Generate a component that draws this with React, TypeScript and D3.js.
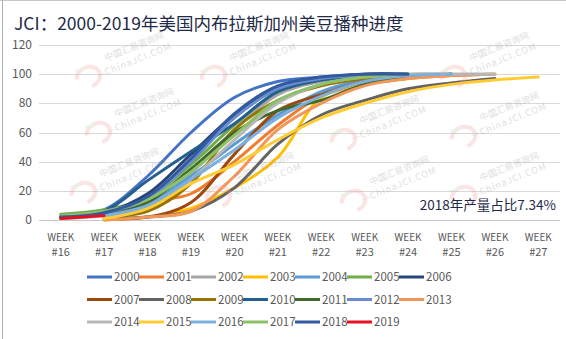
import React from "react";
import * as d3 from "d3";

const weeks = ["16", "17", "18", "19", "20", "21", "22", "23", "24", "25", "26", "27"];
const yTicks = [0, 20, 40, 60, 80, 100, 120];
const years = ["2000","2001","2002","2003","2004","2005","2006","2007","2008","2009","2010","2011","2012","2013","2014","2015","2016","2017","2018","2019"];
const colors = ["#4472C4","#ED7D31","#A5A5A5","#FFC000","#5B9BD5","#70AD47","#264478","#9E480E","#636363","#997300","#255E91","#43682B","#698ED0","#F1975A","#B7B7B7","#FFCD33","#7CAFDD","#8CC168","#335AA1","#E81123"];

type V = number | null;
const s2000: V[] = [2, 7, 30, 60, 84, 95, 98, 100, 100, null, null, null];
const s2001: V[] = [null, 1, 12, 18, 40, 65, 85, 93, 97, 99, 100, null];
const s2002: V[] = [1, 3, 10, 32, 62, 86, 95, 98, 100, 100, 100, null];
const s2003: V[] = [null, 0, 2, 8, 22, 43, 84, 93, 97, 99, null, null];
const s2004: V[] = [2, 4, 12, 30, 52, 72, 88, 96, 99, 100, null, null];
const s2005: V[] = [4, 7, 15, 38, 65, 88, 96, 99, 100, null, null, null];
const s2006: V[] = [2, 5, 18, 45, 72, 90, 97, 100, 100, null, null, null];
const s2007: V[] = [null, 1, 2, 12, 45, 75, 86, 95, 98, 100, null, null];
const s2008: V[] = [null, 1, 2, 6, 22, 52, 72, 82, 90, 94, 97, null];
const s2009: V[] = [null, 2, 6, 25, 62, 82, 92, 97, 99, 100, null, null];
const s2010: V[] = [2, 6, 27, 47, 66, 88, 96, 99, 100, null, null, null];
const s2011: V[] = [null, 3, 12, 35, 60, 75, 82, 93, 98, 100, null, null];
const s2012: V[] = [3, 6, 15, 40, 70, 90, 97, 99, 100, null, null, null];
const s2013: V[] = [null, 0, 2, 6, 30, 62, 80, 92, 97, 99, 100, null];
const s2014: V[] = [null, 2, 8, 28, 55, 80, 93, 98, 100, 100, 100, null];
const s2015: V[] = [null, 1, 8, 25, 38, 55, 70, 80, 88, 93, 96, 98];
const s2016: V[] = [null, 3, 10, 28, 48, 70, 85, 95, 99, 100, null, null];
const s2017: V[] = [3, 6, 14, 33, 58, 82, 93, 98, 100, null, null, null];
const s2018: V[] = [2, 5, 16, 42, 73, 92, 98, 100, 100, null, null, null];
const s2019: V[] = [1, 3, null, null, null, null, null, null, null, null, null, null];
const series = [s2000,s2001,s2002,s2003,s2004,s2005,s2006,s2007,s2008,s2009,s2010,s2011,s2012,s2013,s2014,s2015,s2016,s2017,s2018,s2019];

const wmPos: [number, number][] = [
  [115, 62], [240, 62], [480, 62],
  [125, 118], [370, 125], [490, 122],
  [110, 178], [245, 182], [380, 186], [490, 182],
];

export default function App() {
  const W = 566, H = 339;
  const x = d3.scaleBand<string>().domain(weeks).range([39, 560]);
  const xc = (w: string) => (x(w) as number) + x.bandwidth() / 2;
  const y = d3.scaleLinear().domain([0, 120]).range([220, 45]);
  const font = "'Noto Sans CJK SC', 'Noto Sans', sans-serif";

  const lineGen = d3.line<{ w: string; v: number | null }>()
    .defined(d => d.v !== null)
    .x(d => xc(d.w))
    .y(d => y(d.v as number))
    .curve(d3.curveCatmullRom.alpha(0.5));

  return (
    <svg width={W} height={H} style={{ position: "absolute", left: 0, top: 0, background: "#fff" }} fontFamily={font}>
      <rect x={0} y={0} width={W} height={H} fill="#fff" />
      <line x1={0} x2={W} y1={0.5} y2={0.5} stroke="#c8c8c8" />
      <line x1={2.5} x2={2.5} y1={0} y2={H} stroke="#b0b0b0" />
      <text x={14} y={30} fontSize={17.5} fill="#1f2a48">JCI：2000-2019年美国内布拉斯加州美豆播种进度</text>

      {yTicks.map(t => (
        <g key={t}>
          <line x1={39} x2={560} y1={Math.round(y(t)) + 0.5} y2={Math.round(y(t)) + 0.5} stroke={t === 0 ? "#c8c8c8" : "#d9d9d9"} />
          <text x={32} y={y(t) + 4} fontSize={12} fill="#595959" textAnchor="end">{t}</text>
        </g>
      ))}

      {weeks.map(w => (
        <g key={w} fill="#595959" fontSize={11} textAnchor="middle">
          <text x={xc(w)} y={241} textLength={27} lengthAdjust="spacingAndGlyphs">WEEK</text>
          <text x={xc(w)} y={256}>#{w}</text>
        </g>
      ))}

      {series.map((s, i) => (
        <path key={years[i]}
          d={lineGen(s.map((v, j) => ({ w: weeks[j], v }))) || ""}
          fill="none" stroke={colors[i]} strokeWidth={3} strokeLinecap="round" strokeLinejoin="round" />
      ))}

      {wmPos.map(([cx, cy], i) => (
        <g key={i} transform={`translate(${cx},${cy}) rotate(-22)`} opacity={0.28}>
          <path d="M-42,2 A12,10 0 1,1 -30,14" fill="none" stroke="#f4a0a0" strokeWidth={4} />
          <line x1={-40} x2={-30} y1={-6} y2={-6} stroke="#9fe09f" strokeWidth={2} />
          <text x={-8} y={-4} fontSize={9} fill="#8a8a8a">中国汇易咨询网</text>
          <text x={-22} y={9} fontSize={9} fill="#8a8a8a" letterSpacing={1}>—ChinaJCI.COM</text>
        </g>
      ))}

      <text x={556} y={210} fontSize={13.5} fill="#1f2a48" textAnchor="end">2018年产量占比7.34%</text>

      {years.map((yr, i) => {
        const col = i % 7, row = Math.floor(i / 7);
        const lx = 87 + col * 52, ly = 277 + row * 22.5;
        return (
          <g key={yr}>
            <line x1={lx} x2={lx + 25} y1={ly} y2={ly} stroke={colors[i]} strokeWidth={3} />
            <text x={lx + 27} y={ly + 4} fontSize={11.5} fill="#595959">{yr}</text>
          </g>
        );
      })}
    </svg>
  );
}
